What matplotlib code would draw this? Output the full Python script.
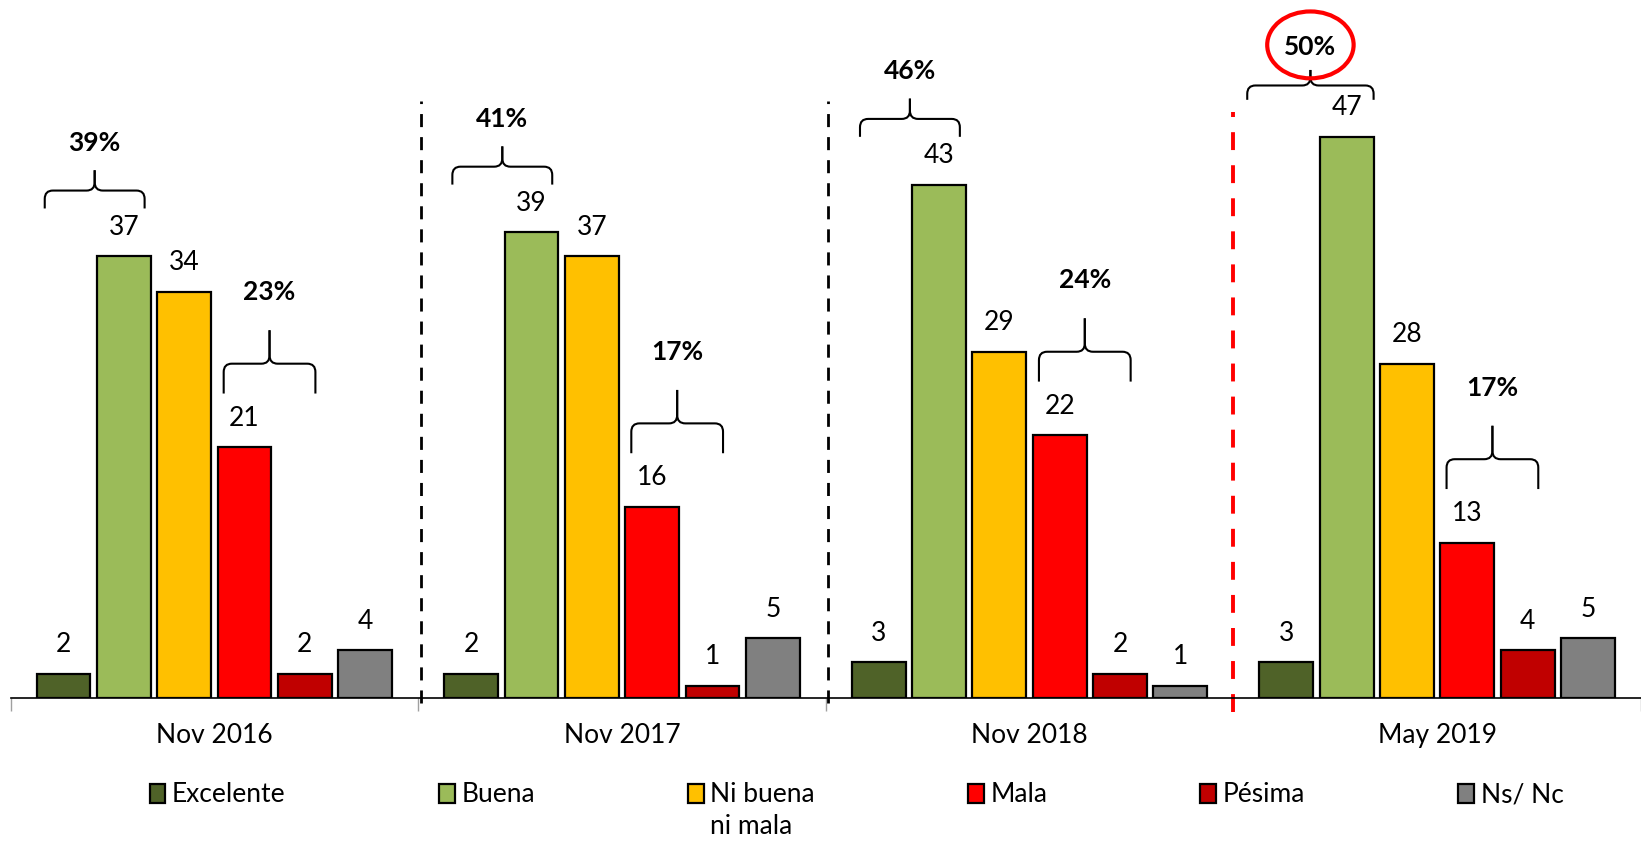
import matplotlib
matplotlib.use("Agg")
import matplotlib.pyplot as plt
from matplotlib.path import Path
from matplotlib.patches import PathPatch, Ellipse
import numpy as np

plt.rcParams['font.family'] = ['Lato', 'DejaVu Sans']

periods = ["Nov 2016", "Nov 2017", "Nov 2018", "May 2019"]
series = ["Excelente", "Buena", "Ni buena", "Mala", "Pésima", "Ns/ Nc"]
colors = ["#4F6228", "#9BBB59", "#FFC000", "#FF0000", "#C00000", "#808080"]

excelente = [2, 2, 3, 3]
buena = [37, 39, 43, 47]
ni_buena = [34, 37, 29, 28]
mala = [21, 16, 22, 13]
pesima = [2, 1, 2, 4]
ns_nc = [4, 5, 1, 5]

positivo = ["39%", "41%", "46%", "50%"]   # Excelente + Buena
negativo = ["23%", "17%", "24%", "17%"]   # Mala + Pésima

values = [excelente, buena, ni_buena, mala, pesima, ns_nc]

fig = plt.figure(figsize=(16.41, 8.41), dpi=100)
ax = fig.add_axes([10.5 / 1641, 143 / 841, 1630.5 / 1641, 698 / 841])

pitch = 0.148
width = 0.132
x = np.arange(len(periods))

for i, (vals, lab, col) in enumerate(zip(values, series, colors)):
    xs = x + (i - 2.5) * pitch
    bars = ax.bar(xs, vals, width, color=col, edgecolor="black", linewidth=1.6,
                  label=lab, zorder=3)
    for b, v in zip(bars, vals):
        ax.annotate(str(v), (b.get_x() + b.get_width() / 2, v),
                    xytext=(0, 12), textcoords="offset points",
                    ha="center", va="bottom", fontsize=19)


def brace(x0, x1, ye, yl, yt, dx=0.02, dy=0.7):
    xm = (x0 + x1) / 2
    half_l = [(x0, ye), (x0, yl - dy), (x0, yl), (x0 + dx, yl),
              (xm - dx, yl), (xm, yl), (xm, yl + dy), (xm, yt)]
    half_r = [(x1, ye), (x1, yl - dy), (x1, yl), (x1 - dx, yl),
              (xm + dx, yl), (xm, yl), (xm, yl + dy), (xm, yt)]
    codes = [Path.MOVETO, Path.LINETO, Path.CURVE3, Path.CURVE3,
             Path.LINETO, Path.CURVE3, Path.CURVE3, Path.LINETO]
    for verts in (half_l, half_r):
        ax.add_patch(PathPatch(Path(verts, codes), fill=False, lw=1.5,
                               edgecolor="black", clip_on=False, zorder=4))
    return xm


for g in range(len(periods)):
    # positive brace over Excelente + Buena
    x0 = g - 2.5 * pitch - width / 2 + 0.02
    x1 = g - 1.5 * pitch + width / 2 - 0.015
    top = buena[g]
    if g == 3:
        # last period: lower brace, highlighted total inside a red ring
        xm = brace(x0 - 0.05, x1 + 0.015, top + 3.1, top + 4.3, top + 5.6)
        ax.text(xm, top + 7.5, positivo[g], ha="center", va="center",
                fontsize=19, fontweight="bold")
        ax.add_patch(Ellipse((xm, top + 7.7), 0.212, 5.6, fill=False,
                             edgecolor="red", lw=3, clip_on=False, zorder=5))
    else:
        xm = brace(x0, x1, top + 4.0, top + 5.5, top + 7.2)
        ax.text(xm, top + 9.5, positivo[g], ha="center", va="center",
                fontsize=19, fontweight="bold")
    # negative brace over Mala + Pésima
    x0 = g + 0.5 * pitch - width / 2 + 0.015
    x1 = g + 1.5 * pitch + width / 2 - 0.04
    top = mala[g]
    xm = brace(x0, x1, top + 4.5, top + 7.0, top + 9.8)
    ax.text(xm, top + 13.0, negativo[g], ha="center", va="center",
            fontsize=19, fontweight="bold")

# separators between periods
for sx in (0.5, 1.5):
    ax.plot([sx + 0.006, sx + 0.006], [-0.4, 50.0], color="black", lw=2,
            ls=(0, (4.7, 3.6)), clip_on=False, zorder=2)
ax.plot([2.5, 2.5], [-1.2, 49.1], color="red", lw=2.8, ls=(0, (4.6, 3.9)),
        clip_on=False, zorder=2)

ax.set_xlim(-0.5, 3.464)
ax.set_ylim(0, 58.46)
for s in ("left", "right", "top"):
    ax.spines[s].set_visible(False)
ax.spines["bottom"].set_linewidth(1.2)
ax.set_yticks([])
ax.set_xticks(x)
ax.set_xticklabels(periods, fontsize=19)
ax.tick_params(axis="x", which="major", length=0, pad=18)
ax.set_xticks([-0.5, 0.5, 1.5, 2.5, 3.5], minor=True)
ax.tick_params(axis="x", which="minor", length=9, color="#A0A0A0", width=1)

leg = fig.legend(loc="center", bbox_to_anchor=(0.522, 0.0547), ncol=6,
                 frameon=False, fontsize=19, handlelength=0.6, handleheight=0.75,
                 handletextpad=0.25, columnspacing=5.8)

# second line of the "Ni buena ni mala" legend entry
fig.canvas.draw()
bb = leg.get_texts()[2].get_window_extent().transformed(fig.transFigure.inverted())
fig.text(bb.x0, bb.y0 - 0.008, "ni mala", ha="left", va="top", fontsize=19)

fig.savefig("out.png", dpi=100)
